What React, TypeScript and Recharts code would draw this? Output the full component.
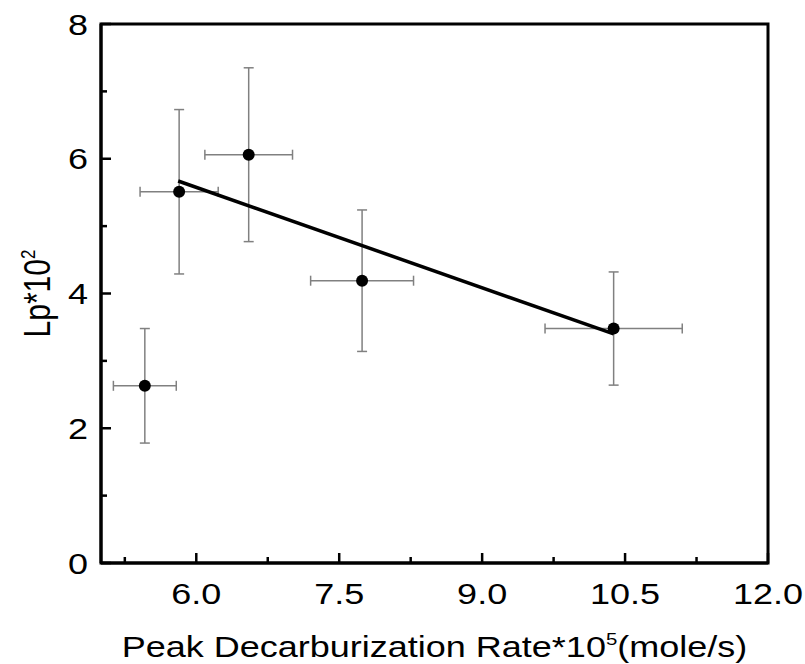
import { ErrorBar, Label, ReferenceArea, Scatter, ScatterChart, XAxis, YAxis } from "recharts";

// measured points (rate *10^5, Lp *10^2) with their error bars
const rateValues = [5.46, 5.82, 6.55, 7.74, 10.38];
const lpValues = [2.63, 5.51, 6.06, 4.19, 3.48];
const rateErrors = [0.33, 0.41, 0.46, 0.54, 0.72];
const lpErrors = [0.85, 1.22, 1.29, 1.05, 0.84];

// linear fit, drawn between its two end points
const fitRate = [5.81, 10.38];
const fitLp = [5.67, 3.4];

const xTicks = [5.25, 6, 6.75, 7.5, 8.25, 9, 9.75, 10.5, 11.25, 12];
const xLabels = [6, 7.5, 9, 10.5, 12];
const yTicks = [0, 1, 2, 3, 4, 5, 6, 7, 8];
const yLabels = [0, 2, 4, 6, 8];

const points = rateValues.map((x, i) => ({
  x,
  y: lpValues[i],
  ex: rateErrors[i],
  ey: lpErrors[i],
}));
const fitData = fitRate.map((x, i) => ({ x, y: fitLp[i] }));

const FONT = '"Liberation Sans", Arial, sans-serif';
const FONT_SIZE = 30;
const STRETCH = 1.2;
const X_MARGIN = 20;
const Y_MARGIN = 13;

function XTick(props: any) {
  const { x, y, payload } = props;
  const v = payload.value;
  const major = xLabels.includes(v);
  const axisY = y - X_MARGIN;
  return (
    <g>
      <line x1={x} x2={x} y1={axisY} y2={axisY - (major ? 10 : 6)} stroke="#000" strokeWidth={2.5} />
      {major && (
        <g transform={`translate(${x},${y}) scale(${STRETCH},1)`}>
          <text textAnchor="middle" dy="0.71em" fontSize={FONT_SIZE} fontFamily={FONT} fill="#000">
            {v.toFixed(1)}
          </text>
        </g>
      )}
    </g>
  );
}

function YTick(props: any) {
  const { x, y, payload } = props;
  const v = payload.value;
  const major = yLabels.includes(v);
  const axisX = x + Y_MARGIN;
  return (
    <g>
      <line x1={axisX} x2={axisX + (major ? 10 : 6)} y1={y} y2={y} stroke="#000" strokeWidth={2.5} />
      {major && (
        <g transform={`translate(${x},${y}) scale(${STRETCH},1)`}>
          <text textAnchor="end" dy="0.355em" fontSize={FONT_SIZE} fontFamily={FONT} fill="#000">
            {v}
          </text>
        </g>
      )}
    </g>
  );
}

function XTitle(props: any) {
  const vb = props.viewBox;
  const cx = vb.x + vb.width / 2;
  const by = vb.y + vb.height - 7;
  return (
    <g transform={`translate(${cx},${by}) scale(${STRETCH},1)`}>
      <text textAnchor="middle" fontSize={FONT_SIZE} fontFamily={FONT} fill="#000">
        <tspan>Peak Decarburization Rate*10</tspan>
        <tspan fontSize={17} dy={-12}>5</tspan>
        <tspan dy={12}>(mole/s)</tspan>
      </text>
    </g>
  );
}

function YTitle(props: any) {
  const vb = props.viewBox;
  const cy = vb.y + vb.height / 2;
  return (
    <g transform={`translate(37,${cy}) scale(${STRETCH},1) rotate(-90)`}>
      <text textAnchor="middle" dy="0.355em" fontSize={FONT_SIZE} fontFamily={FONT} fill="#000">
        <tspan>Lp*10</tspan>
        <tspan fontSize={17} dy={-12}>2</tspan>
      </text>
    </g>
  );
}

export default function App() {
  return (
    <div style={{ position: "absolute", left: 0, top: 0, background: "#fff" }}>
      <ScatterChart width={805} height={664} margin={{ top: 24, right: 37, bottom: 0, left: 0 }}>
        <XAxis
          type="number"
          dataKey="x"
          domain={[5, 12]}
          ticks={xTicks}
          height={101}
          tickSize={0}
          tickLine={false}
          tickMargin={X_MARGIN}
          tick={<XTick />}
          axisLine={{ stroke: "#000", strokeWidth: 3 }}
          allowDataOverflow
        >
          <Label content={<XTitle />} />
        </XAxis>
        <YAxis
          type="number"
          dataKey="y"
          domain={[0, 8]}
          ticks={yTicks}
          width={101}
          tickSize={0}
          tickLine={false}
          tickMargin={Y_MARGIN}
          tick={<YTick />}
          axisLine={{ stroke: "#000", strokeWidth: 3 }}
          allowDataOverflow
        >
          <Label content={<YTitle />} />
        </YAxis>
        <ReferenceArea x1={5} x2={12} y1={0} y2={8} fill="none" stroke="#000" strokeWidth={3} />
        <Scatter
          data={points}
          isAnimationActive={false}
          shape={(p: any) => <circle cx={p.cx} cy={p.cy} r={6} fill="#000" />}
        >
          <ErrorBar dataKey="ey" direction="y" width={5} stroke="#808080" strokeWidth={1.5} />
          <ErrorBar dataKey="ex" direction="x" width={5} stroke="#808080" strokeWidth={1.5} />
        </Scatter>
        <Scatter
          data={fitData}
          isAnimationActive={false}
          line={{ stroke: "#000", strokeWidth: 3.5 }}
          shape={() => <g />}
        />
      </ScatterChart>
    </div>
  );
}
